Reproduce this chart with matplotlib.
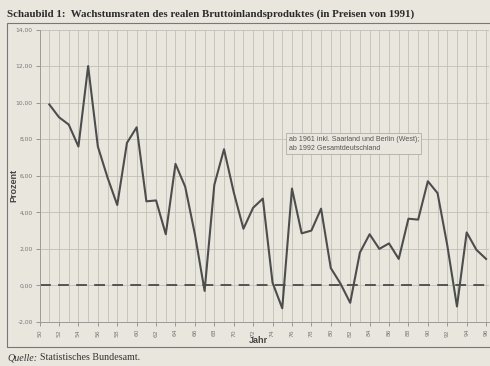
import matplotlib
matplotlib.use("Agg")
import matplotlib.pyplot as plt
from matplotlib.patches import Rectangle
from matplotlib.ticker import FixedLocator, FuncFormatter

years = list(range(1951, 1997))
growth = [9.9, 9.2, 8.8, 7.6, 12.0, 7.6, 5.9, 4.4, 7.8, 8.65,
          4.6, 4.65, 2.8, 6.65, 5.4, 2.8, -0.3, 5.5, 7.45, 5.1,
          3.1, 4.25, 4.75, 0.15, -1.25, 5.3, 2.85, 3.0, 4.2, 0.95,
          0.1, -0.95, 1.8, 2.8, 2.0, 2.3, 1.45, 3.65, 3.6, 5.7,
          5.05, 2.2, -1.15, 2.9, 1.95, 1.45]
tick_years = list(range(1950, 1997, 2))
tick_labels = [str(y % 100) for y in tick_years]
y_ticks = [-2, 0, 2, 4, 6, 8, 10, 12, 14]

title = "Schaubild 1:  Wachstumsraten des realen Bruttoinlandsproduktes (in Preisen von 1991)"
note = "ab 1961 inkl. Saarland und Berlin (West);\nab 1992 Gesamtdeutschland"

bg = "#e9e6dd"
W, H = 490, 366
fig = plt.figure(figsize=(W / 100, H / 100), dpi=100, facecolor=bg)

x0, x1 = 39.6, 489
y_top, y_bot = 29.5, 322
ax = fig.add_axes([x0 / W, 1 - y_bot / H, (x1 - x0) / W, (y_bot - y_top) / H])
ax.set_facecolor(bg)

ax.set_xlim(1950, 1996.3)
ax.set_ylim(-2, 14)

for yr in range(1951, 1997):
    ax.axvline(yr, color="#c2bfb7", lw=0.6, zorder=1)
for yv in y_ticks[1:]:
    ax.axhline(yv, color="#c2bfb7", lw=0.6, zorder=1)

ax.axhline(0, color="#4a4a4a", lw=1.3, ls=(0, (6, 4)), zorder=2)
ax.plot(years, growth, color="#4d4d4d", lw=1.5, zorder=3)

ax.yaxis.set_major_locator(FixedLocator(y_ticks))
ax.yaxis.set_major_formatter(FuncFormatter(lambda v, p: f"{v:.2f}".replace(".", ",")))
ax.xaxis.set_major_locator(FixedLocator(tick_years))
ax.set_xticklabels(tick_labels, rotation=90)
ax.tick_params(axis="both", labelsize=4.3, colors="#8a8a8a", length=3, width=0.6)
ax.tick_params(axis="y", labelcolor="#777777", pad=2)
ax.tick_params(axis="x", labelcolor="#777777", pad=2)

for s in ["top", "right"]:
    ax.spines[s].set_visible(False)
for s in ["left", "bottom"]:
    ax.spines[s].set_color("#9a9a9a")
    ax.spines[s].set_linewidth(0.7)

ax.set_ylabel("Prozent", fontsize=6.5, fontweight="bold", color="#444444",
              family="Liberation Sans")
ax.yaxis.set_label_coords((18 - x0) / (x1 - x0), (y_bot - 185) / (y_bot - y_top))
ax.set_xlabel("Jahr", fontsize=6.5, fontweight="bold", color="#444444",
              family="Liberation Sans")
ax.xaxis.set_label_coords((258 - x0) / (x1 - x0), -(336 - y_bot) / (y_bot - y_top))

ax.text(1975.65, 8.2, note, fontsize=5.1, color="#555555", family="Liberation Sans",
        va="top", ha="left", linespacing=1.45, zorder=4,
        bbox=dict(boxstyle="square,pad=0.35", fc=bg, ec="#b0ada5", lw=0.6))

fig.patches.append(Rectangle((7 / W, 1 - 347 / H), (W - 6) / W, (347 - 23) / H,
                             transform=fig.transFigure, fill=False,
                             ec="#777777", lw=0.8))

fig.text(7 / W, 1 - 14 / H, title, fontsize=7.8, fontweight="bold",
         family="Liberation Serif", color="#2a2a2a", va="center", ha="left")

q1 = fig.text(7 / W, 1 - 358 / H, "Quelle:", fontsize=7.2, style="italic",
              family="Liberation Serif", color="#333333", va="center", ha="left")
fig.canvas.draw()
bb = q1.get_window_extent(renderer=fig.canvas.get_renderer())
fig.text((bb.x1 + 3) / W, 1 - 358 / H, "Statistisches Bundesamt.", fontsize=7.2,
         family="Liberation Serif", color="#333333", va="center", ha="left")

fig.savefig("out.png", dpi=100, facecolor=bg)
